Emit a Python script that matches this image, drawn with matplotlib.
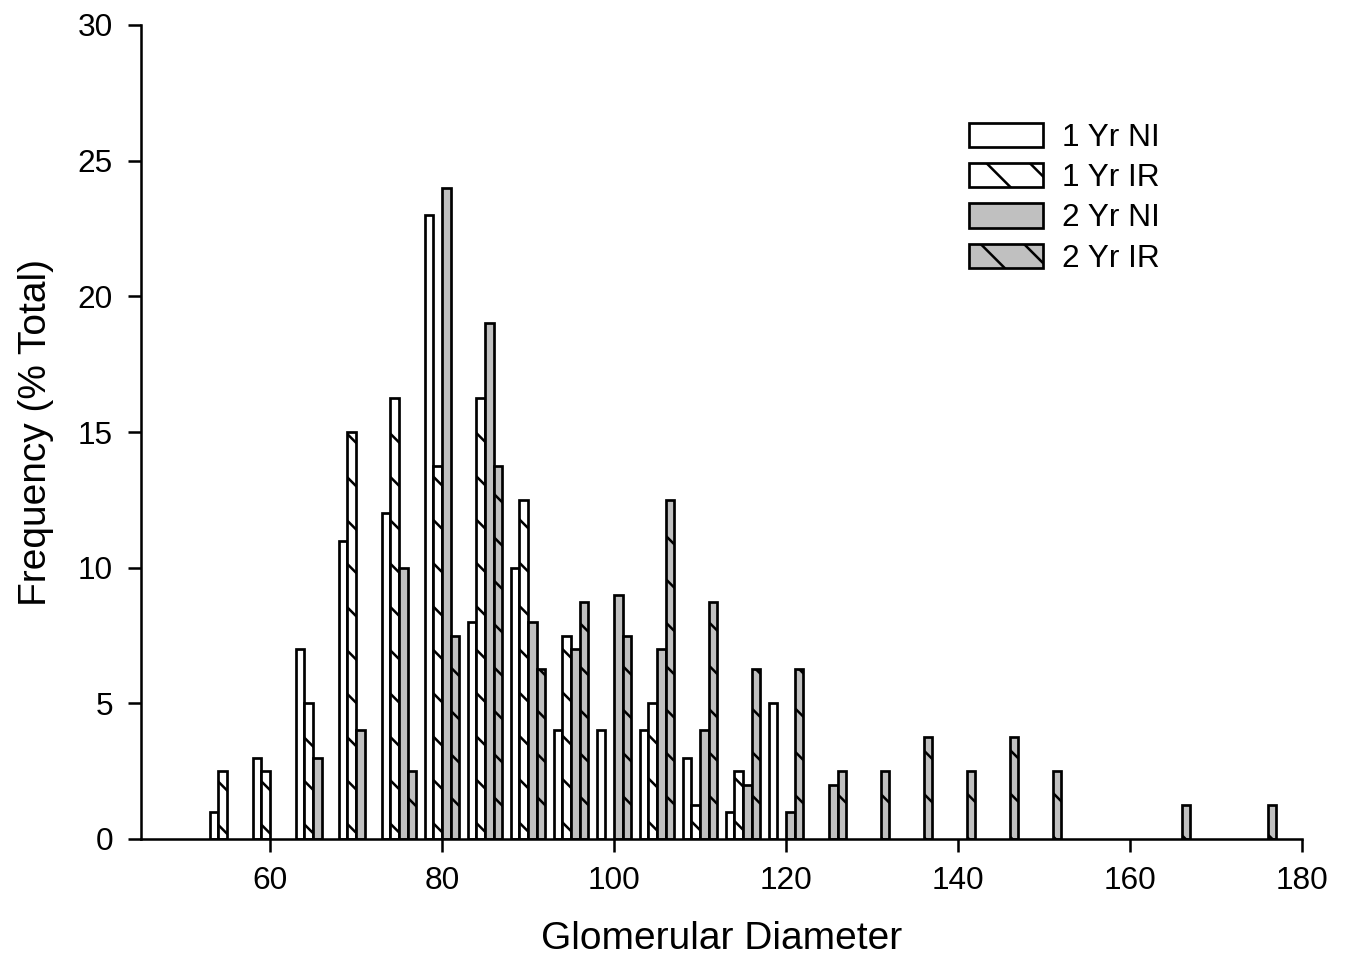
import numpy as np
import matplotlib
matplotlib.use('Agg')
import matplotlib.pyplot as plt

# Glomerular diameter bins (bin centre) and frequency (% total) per group
bins = [55, 60, 65, 70, 75, 80, 85, 90, 95, 100, 105, 110, 115, 120,
        125, 130, 135, 140, 145, 150, 155, 160, 165, 170, 175]
yr1_ni = [1, 3, 7, 11, 12, 23, 8, 10, 4, 4, 4, 3, 1, 5,
          0, 0, 0, 0, 0, 0, 0, 0, 0, 0, 0]
yr1_ir = [2.5, 2.5, 5, 15, 16.25, 13.75, 16.25, 12.5, 7.5, 0, 5, 1.25, 2.5, 0,
          0, 0, 0, 0, 0, 0, 0, 0, 0, 0, 0]
yr2_ni = [0, 0, 3, 4, 10, 24, 19, 8, 7, 9, 7, 4, 2, 1,
          2, 0, 0, 0, 0, 0, 0, 0, 0, 0, 0]
yr2_ir = [0, 0, 0, 0, 2.5, 7.5, 13.75, 6.25, 8.75, 7.5, 12.5, 8.75, 6.25, 6.25,
          2.5, 2.5, 3.75, 2.5, 3.75, 2.5, 0, 0, 1.25, 0, 1.25]

labels = ['1 Yr NI', '1 Yr IR', '2 Yr NI', '2 Yr IR']
fills = ['white', 'white', '#c0c0c0', '#c0c0c0']
hatches = [None, '\\', None, '\\']

plt.rcParams['font.family'] = ['Liberation Sans', 'DejaVu Sans']
plt.rcParams['hatch.linewidth'] = 1.4

fig = plt.figure(figsize=(1348 / 130, 971 / 130), dpi=130)
ax = fig.add_axes([141 / 1348, 1 - 839 / 971, (1302 - 141) / 1348, (839 - 25) / 971])

x = np.array(bins, dtype=float)
handles = []
for i, series in enumerate([yr1_ni, yr1_ir, yr2_ni, yr2_ir]):
    vals = np.array(series, dtype=float)
    keep = vals > 0
    bc = ax.bar(x[keep] - 1.5 + i, vals[keep], width=1.0, color=fills[i],
                edgecolor='black', linewidth=1.5, hatch=hatches[i], zorder=2)
    handles.append(bc)

ax.set_xlim(45, 180)
ax.set_ylim(0, 30)
ax.set_xticks(range(60, 181, 20))
ax.set_yticks(range(0, 31, 5))

for side in ['top', 'right']:
    ax.spines[side].set_visible(False)
for side in ['left', 'bottom']:
    ax.spines[side].set_linewidth(1.4)
    ax.spines[side].set_zorder(3)

ax.tick_params(axis='both', direction='out', length=7, width=1.4, labelsize=17.5)
ax.tick_params(axis='x', pad=8)
ax.tick_params(axis='y', pad=8.5)

ax.set_xlabel('Glomerular Diameter', fontsize=21.5, labelpad=14)
ax.set_ylabel('Frequency (% Total)', fontsize=21.5, labelpad=13)

ax.legend(handles, labels, loc='upper left', bbox_to_anchor=(969 / 1348, 1 - 123 / 971),
          bbox_transform=fig.transFigure, frameon=False, fontsize=17.5,
          handlelength=2.35, handleheight=0.8, handletextpad=0.6,
          labelspacing=0.32, borderpad=0, borderaxespad=0)

fig.savefig('out.png', dpi=130)
